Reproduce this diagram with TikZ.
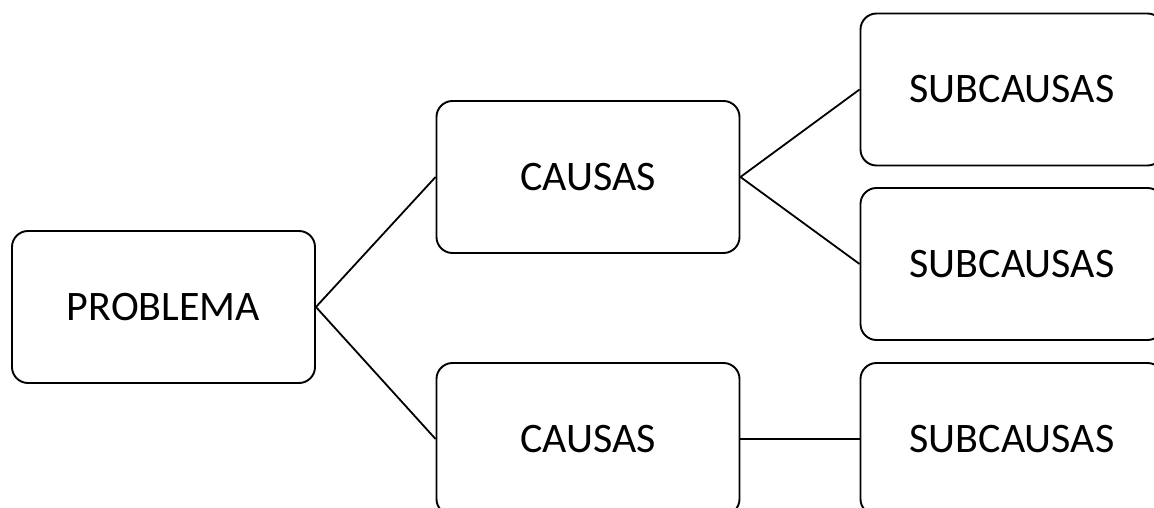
\documentclass[tikz,border=0pt]{standalone}
\usepackage{fontspec}
\setmainfont{Carlito}
\begin{document}
\begin{tikzpicture}[x=1pt,y=-1pt,
  box/.style={draw=black, line width=1.9pt, rounded corners=16pt, fill=white,
    minimum width=303pt, minimum height=152pt, inner sep=0pt,
    font=\fontsize{42}{50}\selectfont},
  link/.style={draw=black, line width=1.8pt}]
  \useasboundingbox (0,0) rectangle (1154,508);
  \clip (0,0) rectangle (1154,508);
  \fill[white] (0,0) rectangle (1154,508);

  % root, causes and sub-causes
  \node[box] (prob) at (163.5,307) {PROBLEMA};
  \node[box] (c1)   at (588,177)   {CAUSAS};
  \node[box] (c2)   at (588,439)   {CAUSAS};
  \node[box] (s1)   at (1012,89.5) {SUBCAUSAS};
  \node[box] (s2)   at (1012,264)  {SUBCAUSAS};
  \node[box] (s3)   at (1012,439)  {SUBCAUSAS};

  % branches
  \draw[link] (prob.east) -- (c1.west);
  \draw[link] (prob.east) -- (c2.west);
  \draw[link] (c1.east) -- (s1.west);
  \draw[link] (c1.east) -- (s2.west);
  \draw[link] (c2.east) -- (s3.west);
\end{tikzpicture}
\end{document}
